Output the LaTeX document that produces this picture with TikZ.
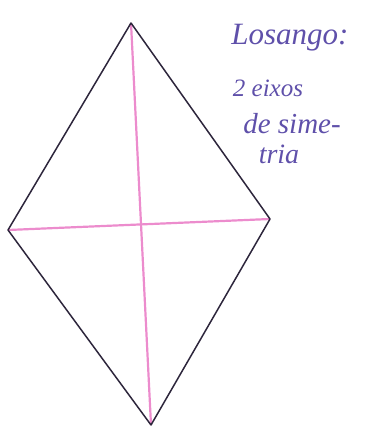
\documentclass[tikz,border=0pt]{standalone}
\usepackage{fontspec}
\setmainfont{Liberation Serif}
\definecolor{edgeink}{RGB}{45,38,60}
\definecolor{pinkaxis}{RGB}{236,140,205}
\definecolor{penink}{RGB}{95,80,170}
\tikzset{
  side/.style={draw=edgeink, line width=1.5pt},
  axis/.style={draw=pinkaxis, line width=2.2pt},
  note/.style={text=penink, font=\itshape, inner sep=0pt}
}
\begin{document}
\begin{tikzpicture}[x=1pt,y=-1pt]
\useasboundingbox (0,0) rectangle (384,428);
\coordinate (T) at (131,23);
\coordinate (L) at (8,230);
\coordinate (R) at (270,219);
\coordinate (B) at (151,425);
\draw[axis] (T) -- (B);
\draw[axis] (L) -- (R);
\draw[side, line join=round] (T) -- (R) -- (B) -- (L) -- cycle;
\node[note, font=\itshape\fontsize{31}{34}\selectfont] (n1) at (290,38) {Losango:};
\node[note, font=\itshape\fontsize{25}{28}\selectfont] (n2) at (268,88) {2 eixos};
\node[note, font=\itshape\fontsize{29}{32}\selectfont] (n3) at (292,124) {de sime-};
\node[note, font=\itshape\fontsize{28}{31}\selectfont] (n4) at (279,154) {tria};
\end{tikzpicture}
\end{document}
